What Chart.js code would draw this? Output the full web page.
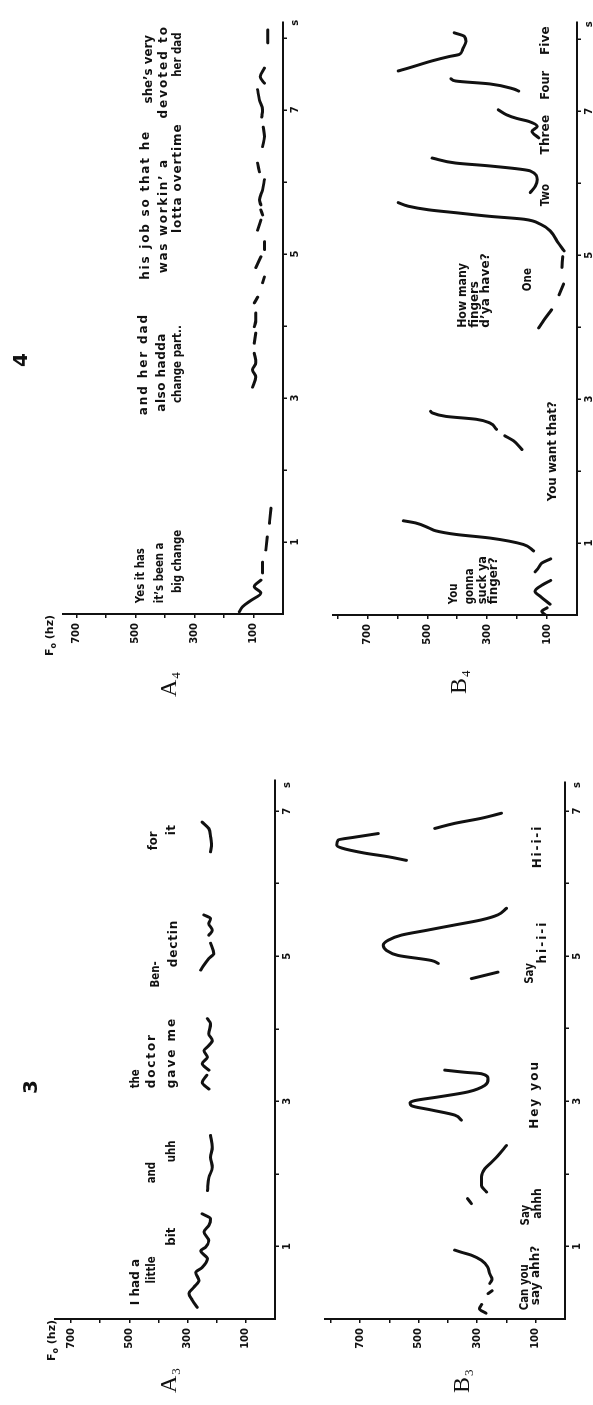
<!DOCTYPE html>
<html>
<head>
<meta charset="utf-8">
<script src="https://cdn.jsdelivr.net/npm/chart.js@4.4.1/dist/chart.umd.min.js"></script>
<style>
  html, body { margin: 0; padding: 0; background: #fff; overflow: hidden; }
  #fig {
    position: absolute; left: 0; top: 0;
    width: 1405px; height: 593px;
    transform-origin: 0 0;
    transform: translateY(1405px) rotate(-90deg);
    background: #fff;
  }
  #fig canvas { position: absolute; }
</style>
</head>
<body>
<div id="fig">
  <canvas id="a3" width="705" height="300" style="left:0;top:0"></canvas>
  <canvas id="b3" width="705" height="293" style="left:0;top:300px"></canvas>
  <canvas id="a4" width="700" height="300" style="left:705px;top:0"></canvas>
  <canvas id="b4" width="700" height="293" style="left:705px;top:300px"></canvas>
</div>
<script>
// F0 traces, time in seconds / F0 in Hz, null breaks the trace
const a3T = [0.16,0.26,0.35,0.44,0.53,0.64,0.71,0.83,0.94,0.99,1.08,1.20,1.29,1.38,1.45, null,
  1.77,1.95,2.09,2.23,2.37,2.53, null,
  3.17,3.26,3.36, null,
  3.43,3.52,3.61,3.70,3.75,3.84,3.93,4.07,4.14, null,
  4.81,4.88,4.97,5.04,5.18, null,
  5.29,5.36,5.45,5.52,5.57, null,
  6.44,6.55,6.65,6.76,6.85];
const a3F = [267,284,295,278,261,272,250,232,255,238,227,244,227,221,250, null,
  232,227,215,221,215,221, null,
  227,250,234, null,
  227,250,232,244,232,215,227,221,232, null,
  255,244,227,210,221, null,
  227,215,227,221,244, null,
  221,218,221,227,250];

const b3T = [0.08,0.14,0.20, null,
  0.35,0.39, null,
  0.49,0.55,0.62,0.72,0.81,0.88,0.92,0.95, null,
  1.59,1.66, null,
  1.75,1.84,1.96,2.07,2.16,2.25,2.39, null,
  2.74,2.81,2.88,2.94,2.98,3.01,3.06,3.13,3.22,3.31,3.38,3.40,3.43, null,
  4.69,4.78, null,
  4.90,4.94,5.01,5.08,5.15,5.22,5.29,5.36,5.43,5.50,5.57,5.66, null,
  6.32,6.37,6.42,6.49,6.53,6.60,6.64,6.69, null,
  6.76,6.83,6.90,6.97];
const b3F = [270,292,285, null,
  263,249, null,
  257,249,257,265,286,320,354,377, null,
  320,333, null,
  268,285,285,274,251,229,200, null,
  354,377,456,525,530,513,433,331,274,263,286,342,411, null,
  320,229, null,
  433,456,570,610,621,604,559,468,377,286,229,200, null,
  542,604,684,763,780,775,718,638, null,
  445,377,286,217];

const a4T = [0.03,0.10,0.19,0.29,0.38,0.47, null,
  0.57,0.72, null, 0.89,1.07, null, 1.26,1.47, null,
  3.15,3.29,3.39,3.49,3.62, null, 3.76,3.90, null, 3.99,4.08,4.18, null,
  4.32,4.40, null, 4.60,4.68, null, 4.81,4.96, null, 5.06,5.17, null,
  5.33,5.47, null, 5.54,5.61, null, 5.68,5.75,5.89,6.03, null, 6.14,6.26, null,
  6.49,6.63,6.76, null, 6.90,7.00,7.14,7.28, null, 7.37,7.46,7.58, null, 7.93,8.11];
const a4F = [148,137,108,75,97,75, null,
  69,69, null, 58,53, null, 46,41, null,
  103,92,103,92,97, null, 97,92, null, 97,92,92, null,
  97,86, null, 69,63, null, 92,75, null, 63,63, null,
  86,75, null, 69,75, null, 75,80,69,63, null, 80,86, null,
  69,63,67, null, 72,69,80,86, null, 63,77,63, null, 52,52];

const b4T = [0.00,0.05,0.10, null,
  0.15,0.25,0.33,0.42,0.48, null,
  0.60,0.66,0.72,0.78, null,
  0.89,0.98,1.07,1.12,1.17,1.21,1.28,1.31, null,
  2.30,2.42,2.49, null,
  2.58,2.67,2.72,2.76,2.81,2.83, null,
  3.99,4.10,4.24, null, 4.45,4.60, null, 4.83,4.98, null,
  5.06,5.19,5.33,5.43,5.50,5.54,5.59,5.63,5.68,5.73, null,
  5.87,5.96,6.05,6.17,6.24,6.28,6.35, null,
  6.63,6.72,6.79,6.86,6.90,6.95,7.02, null,
  7.28,7.31,7.38,7.42,7.45, null,
  7.56,7.60,7.70,7.76,7.79,7.86,7.97,8.04,8.09];
const b4F = [105,118,100, null,
  90,120,140,115,88, null,
  140,128,118,88, null,
  145,179,292,405,472,495,540,580, null,
  184,212,241, null,
  269,292,337,438,484,489, null,
  128,110,85, null, 60,45, null, 50,48, null,
  43,66,88,122,178,292,405,495,563,597, null,
  156,139,133,156,292,405,484, null,
  128,150,133,162,201,235,263, null,
  195,212,292,405,421, null,
  597,563,484,427,393,382,371,376,410];

// tick values and labels
const time3Ticks = [1, 2, 3, 4, 5, 6, 7, 7.36];
const time3Labels = ['1', '', '3', '', '5', '', '7', 's'];
const time4Ticks = [1, 2, 3, 4, 5, 6, 7, 8, 8.21];
const time4Labels = ['1', '', '3', '', '5', '', '7', '', 's'];
const f0TicksA = [100, 200, 300, 400, 500, 600, 700];
const f0LabelsA = ['100', '', '300', '', '500', '', '700'];
const f0TicksB = [100, 200, 300, 400, 500, 600, 700, 800];
const f0LabelsB = ['100', '', '300', '', '500', '', '700', ''];

// utterances: text, start s, end s, F0 level
const notesA3 = [
  ['I had a', 0.19, 0.83, 477], ['little', 0.49, 0.83, 422], ['bit', 1.01, 1.26, 353],
  ['and', 1.87, 2.14, 422], ['uhh', 2.16, 2.43, 353],
  ['the', 3.18, 3.40, 477], ['doctor', 3.18, 3.94, 422], ['gave me', 3.18, 4.19, 353],
  ['Ben-', 4.57, 4.90, 408], ['dectin', 4.85, 5.50, 346],
  ['for', 6.46, 6.72, 415], ['it', 6.67, 6.81, 353]
];
const notesB3 = [
  ['Can you', 0.12, 0.65, 138], ['say ahh?', 0.19, 1.01, 98],
  ['Say', 1.29, 1.57, 135], ['ahhh', 1.38, 1.80, 94],
  ['Hey you', 2.62, 3.63, 104],
  ['Say', 4.62, 4.90, 120], ['hi-i-i', 4.90, 5.50, 75],
  ['Hi-i-i', 6.21, 6.81, 92]
];
const notesA4 = [
  ['Yes it has', 0.15, 0.82, 481], ['it\u2019s been a', 0.15, 0.80, 416], ['big change', 0.29, 1.03, 357],
  ['and her dad', 2.76, 4.18, 470], ['also hadda', 2.81, 3.90, 411], ['change part..', 2.93, 4.01, 357],
  ['his job so that he', 4.64, 6.72, 464], ['was workin\u2019 a', 4.73, 6.33, 402], ['lotta overtime', 5.29, 6.81, 355],
  ['she\u2019s very', 7.09, 8.04, 453], ['devoted to', 6.88, 8.30, 402], ['her dad', 7.46, 8.06, 357]
];
const notesB4 = [
  ['You', 0.15, 0.40, 410], ['gonna', 0.15, 0.56, 359], ['suck ya', 0.15, 0.82, 316], ['finger?', 0.15, 0.80, 278],
  ['You want that?', 1.58, 2.97, 82],
  ['How many', 3.99, 4.89, 382], ['fingers', 3.99, 4.64, 342], ['d\u2019ya have?', 3.99, 5.03, 303],
  ['One', 4.50, 4.82, 165],
  ['Two', 5.68, 5.98, 105], ['Three', 6.40, 6.95, 105], ['Four', 7.16, 7.56, 105], ['Five', 7.78, 8.18, 105]
];

const INK = '#111';
const SANS = '"DejaVu Sans", "Liberation Sans", Arial, sans-serif';

const notesPlugin = {
  id: 'notes',
  afterDraw(chart, args, opts) {
    const { ctx } = chart;
    const x = chart.scales.x, y = chart.scales.y;
    ctx.save();
    ctx.fillStyle = INK;
    ctx.textBaseline = 'middle';
    ctx.textAlign = 'left';
    ctx.font = 'bold 12px ' + SANS;
    (opts.items || []).forEach(([text, t0, t1, f]) => {
      const x0 = x.getPixelForValue(t0);
      const target = x.getPixelForValue(t1) - x0;
      const yy = y.getPixelForValue(f);
      ctx.letterSpacing = '0px';
      const w = ctx.measureText(text).width;
      if (w < target) {
        ctx.letterSpacing = Math.min(2, (target - w) / text.length) + 'px';
        ctx.fillText(text, x0, yy);
      } else {
        ctx.fillText(text, x0, yy, Math.max(target, w * 0.85));
      }
    });
    ctx.letterSpacing = '0px';

    if (opts.title) {
      ctx.font = 'bold 20px ' + SANS;
      ctx.textAlign = 'center';
      ctx.fillText(opts.title.text, opts.title.x, opts.title.y);
    }
    if (opts.tag) {
      ctx.textAlign = 'left';
      ctx.font = '24px "Liberation Serif", "Times New Roman", serif';
      ctx.fillText(opts.tag.letter, opts.tag.x, opts.tag.y);
      const aw = ctx.measureText(opts.tag.letter).width;
      ctx.font = '13px "Liberation Serif", "Times New Roman", serif';
      ctx.fillText(opts.tag.sub, opts.tag.x + aw + 1, opts.tag.y + 7);
    }
    if (opts.unit) {
      ctx.textAlign = 'left';
      ctx.font = 'bold 11px ' + SANS;
      ctx.fillText('F', opts.unit.x, opts.unit.y);
      const fw = ctx.measureText('F').width;
      ctx.font = 'bold 8px ' + SANS;
      ctx.fillText('o', opts.unit.x + fw, opts.unit.y + 4);
      const ow = ctx.measureText('o').width;
      ctx.font = 'bold 11px ' + SANS;
      ctx.fillText(' (hz)', opts.unit.x + fw + ow, opts.unit.y);
    }
    ctx.restore();
  }
};

function toPoints(ts, fs) {
  return ts.map((t, i) => ({ x: t === null ? ts[i - 1] : t, y: fs[i] }));
}

function makePanel(id, cfg) {
  new Chart(document.getElementById(id), {
    type: 'line',
    data: {
      datasets: [{
        data: toPoints(cfg.t, cfg.f),
        borderColor: INK,
        borderWidth: 3,
        pointRadius: 0,
        cubicInterpolationMode: 'monotone',
        spanGaps: false,
        borderCapStyle: 'round',
        borderJoinStyle: 'round'
      }]
    },
    options: {
      responsive: false,
      animation: false,
      events: [],
      layout: { padding: { top: cfg.padTop, right: cfg.padRight, left: 0, bottom: 0 } },
      plugins: {
        legend: { display: false },
        tooltip: { enabled: false },
        notes: { items: cfg.notes, title: cfg.title, tag: cfg.tag, unit: cfg.unit }
      },
      scales: {
        x: {
          type: 'linear',
          min: 0,
          max: cfg.xMax,
          afterFit: (s) => { s.height = cfg.xAxisH; },
          afterBuildTicks: (s) => { s.ticks = cfg.xTicks.map(v => ({ value: v })); },
          ticks: {
            autoSkip: false,
            maxRotation: 0,
            padding: 2,
            color: INK,
            font: { family: SANS, size: 10, weight: 'bold' },
            callback: (v, i) => cfg.xLabels[i]
          },
          grid: {
            drawOnChartArea: false,
            tickLength: 4,
            lineWidth: 1.5,
            tickColor: (c) => (c.tick && cfg.xLabels[c.index] === 's') ? 'rgba(0,0,0,0)' : INK
          },
          border: { color: INK, width: 2 }
        },
        y: {
          type: 'linear',
          min: 0,
          max: cfg.yMax,
          afterFit: (s) => { s.width = cfg.yAxisW; },
          afterBuildTicks: (s) => { s.ticks = cfg.yTicks.map(v => ({ value: v })); },
          ticks: {
            autoSkip: false,
            padding: 5,
            color: INK,
            font: { family: SANS, size: 10, weight: 'bold' },
            callback: (v, i) => cfg.yLabels[i]
          },
          grid: { drawOnChartArea: false, tickLength: 4, lineWidth: 1.5, color: INK },
          border: { color: INK, width: 2 }
        }
      }
    },
    plugins: [notesPlugin]
  });
}

makePanel('a3', {
  t: a3T, f: a3F, notes: notesA3,
  xMax: 7.43, yMax: 755, xTicks: time3Ticks, xLabels: time3Labels,
  yTicks: f0TicksA, yLabels: f0LabelsA,
  padTop: 55, padRight: 80, yAxisW: 86, xAxisH: 25,
  title: { text: '3', x: 318, y: 32 },
  tag: { letter: 'A', sub: '3', x: 12, y: 170 },
  unit: { x: 44, y: 52 }
});
makePanel('b3', {
  t: b3T, f: b3F, notes: notesB3,
  xMax: 7.40, yMax: 820, xTicks: time3Ticks, xLabels: time3Labels,
  yTicks: f0TicksB, yLabels: f0LabelsB,
  padTop: 25, padRight: 82, yAxisW: 86, xAxisH: 28,
  tag: { letter: 'B', sub: '3', x: 12, y: 163 }
});
makePanel('a4', {
  t: a4T, f: a4F, notes: notesA4,
  xMax: 8.22, yMax: 745, xTicks: time4Ticks, xLabels: time4Labels,
  yTicks: f0TicksA, yLabels: f0LabelsA,
  padTop: 63, padRight: 22, yAxisW: 86, xAxisH: 17,
  title: { text: '4', x: 340, y: 22 },
  tag: { letter: 'A', sub: '4', x: 3, y: 170 },
  unit: { x: 44, y: 50 }
});
makePanel('b4', {
  t: b4T, f: b4F, notes: notesB4,
  xMax: 8.24, yMax: 815, xTicks: time4Ticks, xLabels: time4Labels,
  yTicks: f0TicksB, yLabels: f0LabelsB,
  padTop: 33, padRight: 22, yAxisW: 85, xAxisH: 16,
  tag: { letter: 'B', sub: '4', x: 6, y: 160 }
});
</script>
</body>
</html>
